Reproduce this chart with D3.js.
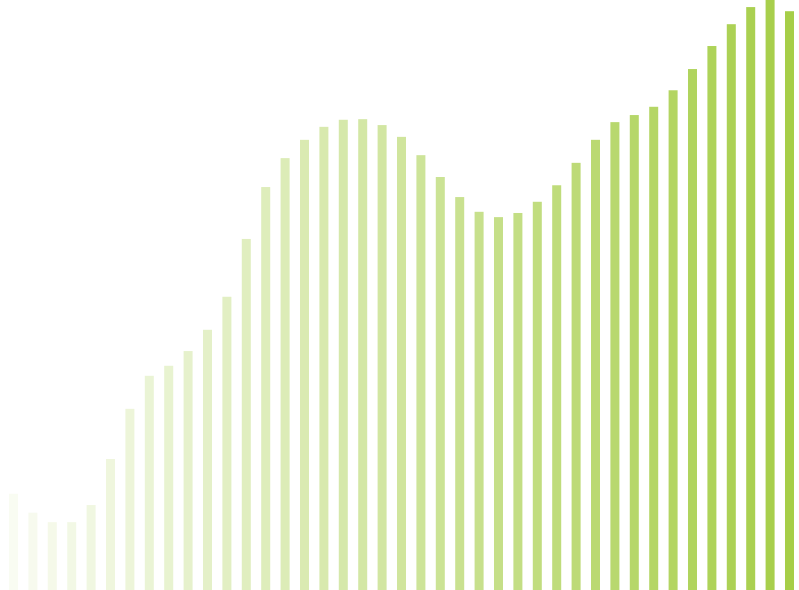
<!DOCTYPE html>
<html>
<head>
<meta charset="utf-8">
<script src="https://cdn.jsdelivr.net/npm/d3@7"></script>
<style>
  html, body { margin: 0; padding: 0; background: #fff; overflow: hidden; }
</style>
</head>
<body>
<div id="chart"></div>
<script>
// Bar values (tallest bar = 100)
var values = [
  16.3, 13.1, 11.5, 11.5, 14.4, 22.2, 30.7, 36.3, 38.0, 40.5,
  44.1, 49.7, 59.5, 68.3, 73.2, 76.3, 78.5, 79.7, 79.8, 78.8,
  76.8, 73.7, 70.0, 66.6, 64.1, 63.2, 63.9, 65.8, 68.6, 72.4,
  76.3, 79.3, 80.5, 81.9, 84.7, 88.3, 92.2, 95.9, 98.8, 100,
  98.1
];
var categories = values.map((d, i) => i);

var width = 799;
var height = 590;
var barColor = "#a6ce48";

var svg = d3.select("#chart")
  .append("svg")
  .attr("width", width)
  .attr("height", height);

var xScale = d3.scaleBand()
  .domain(categories)
  .range([9, 794])
  .paddingInner(0.536);

var yScale = d3.scaleLinear()
  .domain([0, 100])
  .range([height, 0]);

// Opacity rises from left to right
var opacity = d3.scaleLinear()
  .domain([0, categories.length - 1])
  .range([0.07, 1]);

svg.selectAll("rect")
  .data(values)
  .enter()
  .append("rect")
  .attr("x", (d, i) => xScale(i))
  .attr("y", d => yScale(d))
  .attr("width", xScale.bandwidth())
  .attr("height", d => height - yScale(d))
  .attr("fill", barColor)
  .attr("fill-opacity", (d, i) => opacity(i));
</script>
</body>
</html>
